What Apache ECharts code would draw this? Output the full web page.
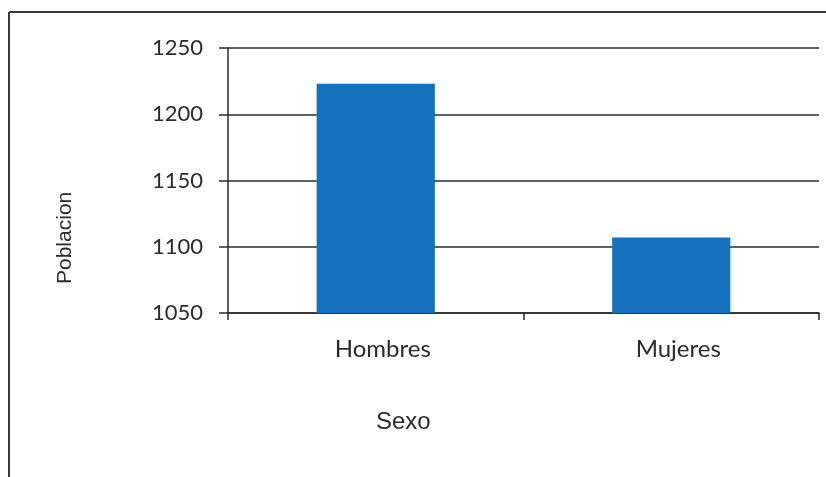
<!DOCTYPE html>
<html>
<head>
<meta charset="utf-8">
<script src="https://cdn.jsdelivr.net/npm/echarts@6/dist/echarts.min.js"></script>
<style>
  html, body { margin: 0; padding: 0; background: #ffffff; }
  #chart { width: 826px; height: 477px; }
</style>
</head>
<body>
<div id="chart"></div>
<script>
// Population by sex
const categories = ['Hombres', 'Mujeres'];
const poblacion = [1223, 1107];
const yMin = 1050;
const yMax = 1250;
const yStep = 50;

const chart = echarts.init(document.getElementById('chart'));
const ink = '#2b2b2b';

chart.setOption({
  animation: false,
  backgroundColor: '#ffffff',
  grid: { left: 228, top: 48, right: 7, bottom: 164, containLabel: false },
  graphic: [
    // frame around the chart area (top and left edges)
    { type: 'line', shape: { x1: 9, y1: 12, x2: 826, y2: 12 }, style: { stroke: '#3a3a3a', lineWidth: 2 } },
    { type: 'line', shape: { x1: 9, y1: 12, x2: 9, y2: 477 }, style: { stroke: '#3a3a3a', lineWidth: 2 } },
    { type: 'text', left: 376, top: 410,
      style: { text: 'Sexo', font: '24px "Liberation Sans Narrow", "Liberation Sans", sans-serif', fill: ink } },
    { type: 'text', x: 55, y: 284, rotation: Math.PI / 2,
      style: { text: 'Poblacion', font: '21px "Liberation Sans Narrow", "Liberation Sans", sans-serif', fill: ink } }
  ],
  xAxis: {
    type: 'category',
    data: categories,
    boundaryGap: true,
    axisLine: { show: true, lineStyle: { color: ink, width: 1.5 } },
    axisTick: { show: true, length: 7, lineStyle: { color: ink, width: 1.5 } },
    axisLabel: { color: ink, fontSize: 24, fontFamily: 'Lato, "Open Sans", sans-serif', margin: 24,
                 padding: [0, 0, 0, 14] },
    splitLine: { show: false }
  },
  yAxis: {
    type: 'value',
    min: yMin,
    max: yMax,
    interval: yStep,
    axisLine: { show: true, lineStyle: { color: ink, width: 1.5 } },
    axisTick: { show: true, length: 9, lineStyle: { color: ink, width: 1.5 } },
    axisLabel: { color: ink, fontSize: 22, fontFamily: 'Lato, "Open Sans", sans-serif', margin: 25,
                 formatter: v => String(v) },
    splitLine: { show: true, lineStyle: { color: ink, width: 1.5 } }
  },
  series: [{
    type: 'bar',
    data: poblacion,
    barWidth: '40%',
    itemStyle: { color: '#1570bd' }
  }]
});
</script>
</body>
</html>
